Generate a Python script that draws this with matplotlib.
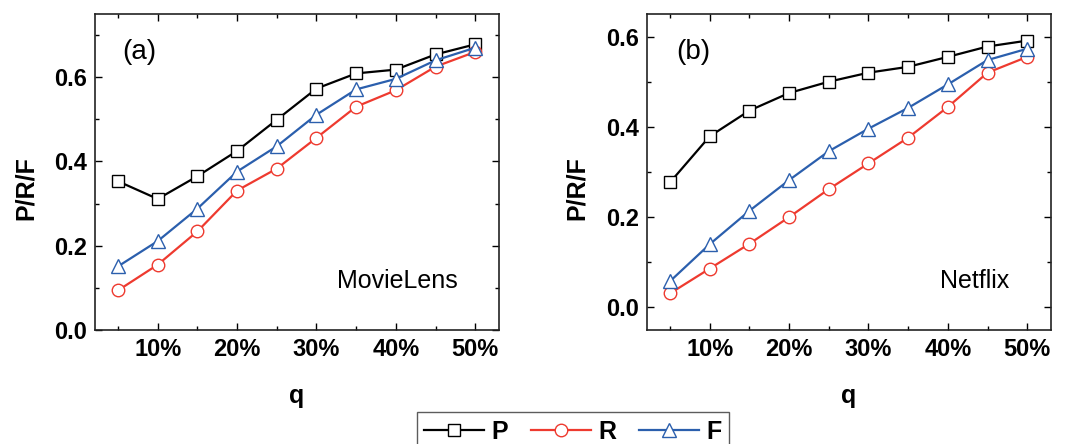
import matplotlib
matplotlib.use("Agg")
import matplotlib.pyplot as plt
from matplotlib.ticker import MultipleLocator

plt.rcParams["font.family"] = ["Liberation Sans", "DejaVu Sans"]

q = [5, 10, 15, 20, 25, 30, 35, 40, 45, 50]

# MovieLens
ml_P = [0.353, 0.311, 0.365, 0.425, 0.499, 0.573, 0.609, 0.618, 0.654, 0.678]
ml_R = [0.094, 0.155, 0.234, 0.331, 0.383, 0.456, 0.530, 0.569, 0.625, 0.660]
ml_F = [0.151, 0.211, 0.288, 0.376, 0.436, 0.511, 0.571, 0.596, 0.640, 0.670]

# Netflix
nf_P = [0.277, 0.379, 0.436, 0.475, 0.500, 0.520, 0.533, 0.555, 0.578, 0.591]
nf_R = [0.031, 0.086, 0.141, 0.200, 0.262, 0.319, 0.376, 0.444, 0.520, 0.555]
nf_F = [0.058, 0.140, 0.214, 0.282, 0.346, 0.396, 0.442, 0.494, 0.548, 0.573]

xticks = [10, 20, 30, 40, 50]
xticklabels = ["10%", "20%", "30%", "40%", "50%"]
yticks = [0.0, 0.2, 0.4, 0.6]

BLACK = "#000000"
RED = "#ee3a2f"
BLUE = "#2b5fad"

fig = plt.figure(figsize=(10.86, 4.44), dpi=100)
ax1 = fig.add_axes([95 / 1086, 114 / 444, 404 / 1086, 316 / 444])
ax2 = fig.add_axes([647 / 1086, 114 / 444, 404 / 1086, 316 / 444])


def draw(ax, P, R, F, ylim, tag, tag_x, name, ylab_x):
    lp = ax.plot(q, P, "-s", color=BLACK, mfc="white", mec=BLACK, ms=8, lw=1.6, mew=1.0, label="P")
    lr = ax.plot(q, R, "-o", color=RED, mfc="white", mec=RED, ms=9, lw=1.6, mew=1.0, label="R")
    lf = ax.plot(q, F, "-^", color=BLUE, mfc="white", mec=BLUE, ms=10, lw=1.6, mew=1.0, label="F")
    ax.set_xlim(2.1, 53)
    ax.set_ylim(*ylim)
    ax.set_xticks(xticks)
    ax.set_xticklabels(xticklabels)
    ax.set_yticks(yticks)
    ax.set_yticklabels([f"{v:.1f}" for v in yticks])
    ax.xaxis.set_minor_locator(MultipleLocator(5))
    ax.yaxis.set_minor_locator(MultipleLocator(0.1))
    ax.tick_params(which="both", direction="in", top=True, right=True, width=1.0)
    ax.tick_params(which="major", length=5, labelsize=17, pad=6)
    ax.tick_params(which="minor", length=3)
    for lab in ax.get_xticklabels() + ax.get_yticklabels():
        lab.set_fontweight("bold")
    for s in ax.spines.values():
        s.set_linewidth(1.2)
        s.set_color("#222222")
    ax.set_xlabel("q", fontsize=18, fontweight="bold", labelpad=16)
    ax.set_ylabel("P/R/F", fontsize=18, fontweight="bold")
    ax.yaxis.set_label_coords(ylab_x, 0.45)
    ax.text(tag_x, 0.88, tag, transform=ax.transAxes, fontsize=20, va="center")
    ax.text(0.897, 0.155, name, transform=ax.transAxes, fontsize=18, ha="right", va="center")
    return lp[0], lr[0], lf[0]


handles = draw(ax1, ml_P, ml_R, ml_F, (0, 0.75), "(a)", 0.067, "MovieLens", -0.141)
draw(ax2, nf_P, nf_R, nf_F, (-0.05, 0.65), "(b)", 0.072, "Netflix", -0.143)

leg = fig.legend(handles, ["P", "R", "F"], loc="upper center", ncol=3,
                 bbox_to_anchor=(573 / 1086, 32 / 444), borderaxespad=0,
                 frameon=True, fancybox=False,
                 handlelength=2.4, columnspacing=0.9, handletextpad=0.3,
                 borderpad=0.3, prop={"size": 18, "weight": "bold"})
leg.get_frame().set_edgecolor("#333333")
leg.get_frame().set_linewidth(1.0)

fig.savefig("out.png", dpi=100)
